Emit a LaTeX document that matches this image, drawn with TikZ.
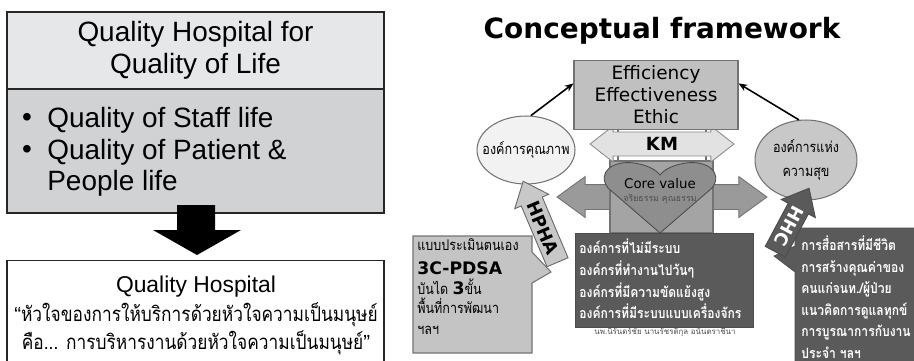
\documentclass[tikz,border=0pt]{standalone}
\usepackage{fontspec}
\setmainfont{Liberation Sans}
\newfontfamily\libsans{Liberation Sans}
\newfontfamily\dejavu{DejaVu Sans}
\newfontfamily\thaifont[Script=Thai]{Loma}
\newfontfamily\thaicond[Script=Thai, FakeStretch=0.85]{Loma}
\usetikzlibrary{arrows.meta, positioning, shapes.geometric, shapes.arrows}

\definecolor{hdrgray}{HTML}{E6E7E8}
\definecolor{bodygray}{HTML}{D1D2D4}
\definecolor{effgray}{HTML}{C0C0C0}
\definecolor{kmgray}{HTML}{E2E2E2}
\definecolor{coregray}{HTML}{A4A4A4}
\definecolor{heartgray}{HTML}{8E8E8E}
\definecolor{bigarrgray}{HTML}{9A9A9A}
\definecolor{darkbox}{HTML}{5A5A5A}
\definecolor{calloutgray}{HTML}{C4C4C4}
\definecolor{lightell}{HTML}{F2F2F2}
\definecolor{midell}{HTML}{C8C8C8}

\tikzset{
  panelbox/.style={draw=black!85, line width=0.8pt},
  greybox/.style={draw=black!55, line width=0.6pt},
  blockarr/.style={single arrow, draw=black!60, line width=0.5pt, inner xsep=1pt,
    single arrow head indent=0pt},
  thaitext/.style={font=\thaicond\fontsize{8.4}{12}\selectfont, inner sep=0pt},
}

\begin{document}
\begin{tikzpicture}[x=0.02cm, y=-0.02cm]
\useasboundingbox (0,0) rectangle (914,360);

% left panel
\node[panelbox, fill=hdrgray, minimum width=7.54cm, minimum height=1.54cm, align=center,
  font=\fontsize{15.9}{18.1}\selectfont] (head) at (195.5,50.5)
  {Quality Hospital for\\Quality of Life};
\node[panelbox, fill=bodygray, minimum width=7.54cm, minimum height=2.48cm] (body) at (195.5,151) {};
\node[font=\fontsize{15.9}{18}\selectfont] (b1) at (27,120) {\textbullet};
\node[font=\fontsize{15.9}{18}\selectfont] (b2) at (27,152) {\textbullet};
\node[anchor=west, inner sep=0pt, font=\fontsize{15.9}{18}\selectfont] (staff) at (47,120) {Quality of Staff life};
\node[anchor=west, inner sep=0pt, font=\fontsize{15.9}{18}\selectfont] (patient) at (47,152) {Quality of Patient \&};
\node[anchor=west, inner sep=0pt, font=\fontsize{15.9}{18}\selectfont] (people) at (47,183) {People life};

\fill (177,205) -- (215,205) -- (215,230) -- (241,230) -- (197,255) -- (153,230) -- (177,230) -- cycle;

\node[panelbox, fill=white, minimum width=7.54cm, minimum height=2.3cm] (qhosp) at (195.5,318) {};
\node[font=\fontsize{13}{15}\selectfont] (qtitle) at (196,287) {Quality Hospital};
\node[thaitext, font=\thaicond\fontsize{11.6}{15}\selectfont] (quote1) at (196,315)
  {{\libsans “}หัวใจของการให้บริการด้วยหัวใจความเป็นมนุษย์};
\node[thaitext, font=\thaicond\fontsize{11.6}{15}\selectfont] (quote2) at (196,343)
  {คือ... การบริหารงานด้วยหัวใจความเป็นมนุษย์{\libsans ”}};

% right panel
\node[font=\dejavu\bfseries\fontsize{15.9}{18}\selectfont] (title) at (662,31) {Conceptual framework};

\node[double arrow, fill=bigarrgray, draw=black!55, line width=0.5pt, minimum height=4.2cm,
  inner ysep=0.24cm, inner xsep=0pt, double arrow head extend=0.16cm,
  double arrow tip angle=72] (flow) at (662,197) {};
\node[greybox, fill=coregray, minimum width=2.06cm, minimum height=1.44cm] (core) at (661.5,197) {};
\draw[draw=black!70, fill=heartgray, line width=0.5pt] (660,233) -- (608,188)
  .. controls (596,172) and (614,160) .. (634,163)
  .. controls (648,165) and (656,170) .. (660,175)
  .. controls (664,170) and (672,165) .. (686,163)
  .. controls (706,160) and (724,172) .. (712,188) -- cycle;
\node[font=\dejavu\fontsize{7.6}{9}\selectfont] (corev) at (660,184) {Core value};
\node[thaitext, font=\thaifont\fontsize{5}{6}\selectfont, text=black!70] (ethic) at (660,199) {จริยธรรม คุณธรรม};

\node[greybox, fill=white, minimum width=1.76cm, minimum height=0.68cm] (kmback) at (662,144) {};
\node[double arrow, fill=kmgray, draw=black!45, line width=0.5pt, minimum height=2.88cm,
  inner ysep=0.1cm, inner xsep=0pt, double arrow head extend=0.12cm, double arrow tip angle=76,
  font=\dejavu\bfseries\fontsize{10.3}{12}\selectfont, text height=7.5pt, text depth=0pt] (km) at (662,144) {KM};

\node[greybox, fill=effgray, minimum width=3.28cm, minimum height=1.28cm, align=center,
  font=\dejavu\fontsize{10.5}{12.5}\selectfont] (eff) at (656,95)
  {Efficiency\\Effectiveness\\Ethic};

\node[ellipse, greybox, fill=lightell, inner sep=0pt, minimum width=1.96cm, minimum height=1.36cm] (qorg) at (526,150) {};
\node[thaitext] (qorgtxt) at (qorg.center) {องค์การคุณภาพ};
\node[ellipse, greybox, fill=midell, inner sep=0pt, minimum width=2.04cm, minimum height=1.6cm] (horg) at (806,160) {};
\node[thaitext, align=center, font=\thaicond\fontsize{8.4}{13.8}\selectfont] (horgtxt) at (horg.center) {องค์การแห่ง\\ความสุข};

\draw[-{Stealth[length=5pt, width=4pt]}, line width=0.9pt] (qorg.82) -- (eff.172);
\draw[-{Stealth[length=5pt, width=4pt]}, line width=0.9pt] (horg.100) -- (eff.8);

% dark centre box
\node[draw=black!70, fill=darkbox, minimum width=3.56cm, minimum height=1.88cm] (sick) at (664,280) {};
\node[anchor=west, align=left, text=white, inner sep=0pt,
  font=\thaicond\bfseries\fontsize{8.1}{12.3}\selectfont] (sicktxt) at (579,279)
  {องค์การที่ไม่มีระบบ\\องค์กรที่ทำงานไปวันๆ\\องค์กรที่มีความขัดแย้งสูง\\องค์การที่มีระบบแบบเครื่องจักร};
\node[thaitext, font=\thaifont\fontsize{4.5}{5}\selectfont, text=black!70] (credit) at (665,332)
  {นพ.นิรันดร์ชัย นานรัชรติกุล อนันตราชีนา};

% left callout
\coordinate (hphatail) at (551,272);
\draw[greybox, fill=calloutgray] (413,236) -- (532,236) -- (532,252) -- (hphatail)
  -- (532,283) -- (532,353) -- (413,353) -- cycle;
\node[thaitext, anchor=west] (self) at (417,245) {แบบประเมินตนเอง};
\node[anchor=west, inner sep=0pt, font=\dejavu\bfseries\fontsize{9.8}{12}\selectfont] (pdsa) at (417,268) {3C-PDSA};
\node[thaitext, anchor=west] (steps) at (417,287)
  {บันได {\dejavu\bfseries\fontsize{9.8}{12}\selectfont 3}ขั้น};
\node[thaitext, anchor=west] (area) at (417,306) {พื้นที่การพัฒนา};
\node[thaitext, anchor=west] (etc) at (417,330) {ฯลฯ};

\node[blockarr, fill=midell, rotate=-67, shape border rotate=180, minimum height=1.76cm,
  inner ysep=2.6pt, single arrow head extend=4pt, single arrow tip angle=80,
  font=\dejavu\bfseries\fontsize{10}{12}\selectfont, text height=7.3pt, text depth=0pt] (hpha) at (543,228) {HPHA};

% right callout
\coordinate (hhctail) at (774,256);
\draw[draw=black!70, fill=darkbox] (795,228) -- (916,228) -- (916,362) -- (795,362) -- (795,272)
  -- (hhctail) -- (795,246) -- cycle;
\node[anchor=north west, align=left, text=white, inner sep=0pt,
  font=\thaicond\bfseries\fontsize{8.1}{12.2}\selectfont] (hhctxt) at (801,236)
  {การสื่อสารที่มีชีวิต\\การสร้างคุณค่าของ\\คนแก่จนท./ผู้ป่วย\\แนวคิดการดูแลทุกข์\\การบูรณาการกับงาน\\ประจำ ฯลฯ};

\node[blockarr, fill=darkbox, draw=black!70, text=white, rotate=-118, shape border rotate=180,
  minimum height=1.44cm, inner ysep=2.6pt, single arrow head extend=4.5pt, single arrow tip angle=80,
  font=\dejavu\bfseries\fontsize{10}{12}\selectfont, text height=7.3pt, text depth=0pt] (hhc) at (789,226) {HHC};
\end{tikzpicture}
\end{document}
